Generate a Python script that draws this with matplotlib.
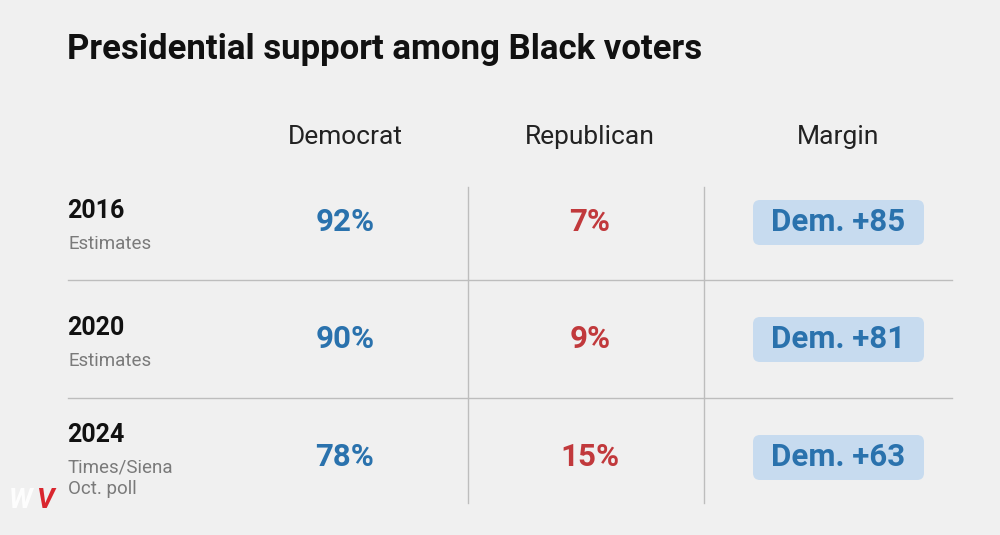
import matplotlib.pyplot as plt
from matplotlib.patches import FancyBboxPatch

# table data
years = ['2016', '2020', '2024']
sources = ['Estimates', 'Estimates', 'Times/Siena\nOct. poll']
columns = ['Democrat', 'Republican', 'Margin']
dem = [92, 90, 78]
rep = [7, 9, 15]
margins = ['Dem. +85', 'Dem. +81', 'Dem. +63']

BG = '#f0f0f0'
BLUE = '#2a72ad'
RED = '#c1393c'
BOX = '#c7dbef'
LINE = '#bdbdbd'

plt.rcParams['font.family'] = ['Roboto', 'DejaVu Sans']

fig = plt.figure(figsize=(10, 5.35), dpi=100, facecolor=BG)
ax = fig.add_axes([0, 0, 1, 1])
ax.set_facecolor(BG)
ax.set_xlim(0, 1000)
ax.set_ylim(535, 0)
ax.axis('off')

ax.text(67, 50, 'Presidential support among Black voters', fontsize=25,
        fontweight='bold', color='#111111', va='center', ha='left')

col_x = [345, 590, 838]
for x, c in zip(col_x, columns):
    ax.text(x, 137, c, fontsize=19, color='#222222', ha='center', va='center')

row_y = [222, 339, 457]
row_h = 118

# grid lines
for i in range(1, len(years)):
    y = row_y[i] - row_h / 2
    ax.plot([68, 952], [y, y], color=LINE, lw=1)
for x in [468, 704]:
    ax.plot([x, x], [187, 503], color=LINE, lw=1)

for i, y in enumerate(row_y):
    nlines = sources[i].count('\n') + 1
    yy = y - 11 - 11 * (nlines - 1)
    ax.text(67, yy, years[i], fontsize=18, fontweight='bold', color='#111111',
            ha='left', va='center')
    ax.text(68, yy + 24, sources[i], fontsize=13.5, color='#7a7a7a', ha='left',
            va='top', linespacing=1.2)
    ax.text(col_x[0], y, f'{dem[i]}%', fontsize=22.5, fontweight='bold', color=BLUE,
            ha='center', va='center')
    ax.text(col_x[1], y, f'{rep[i]}%', fontsize=22.5, fontweight='bold', color=RED,
            ha='center', va='center')
    box = FancyBboxPatch((753, y - 22), 171, 45,
                         boxstyle='round,pad=0,rounding_size=7',
                         facecolor=BOX, edgecolor='none')
    ax.add_patch(box)
    ax.text(col_x[2], y, margins[i], fontsize=22.5, fontweight='bold', color=BLUE,
            ha='center', va='center')

# small logo bottom-left
ax.text(9, 501, 'W', fontsize=20, fontweight='bold', color='white', ha='left',
        va='center', style='italic', alpha=0.9)
ax.text(36, 501, 'V', fontsize=20, fontweight='bold', color='#d9262e', ha='left',
        va='center', style='italic')

fig.savefig('out.png', dpi=100, facecolor=BG)
